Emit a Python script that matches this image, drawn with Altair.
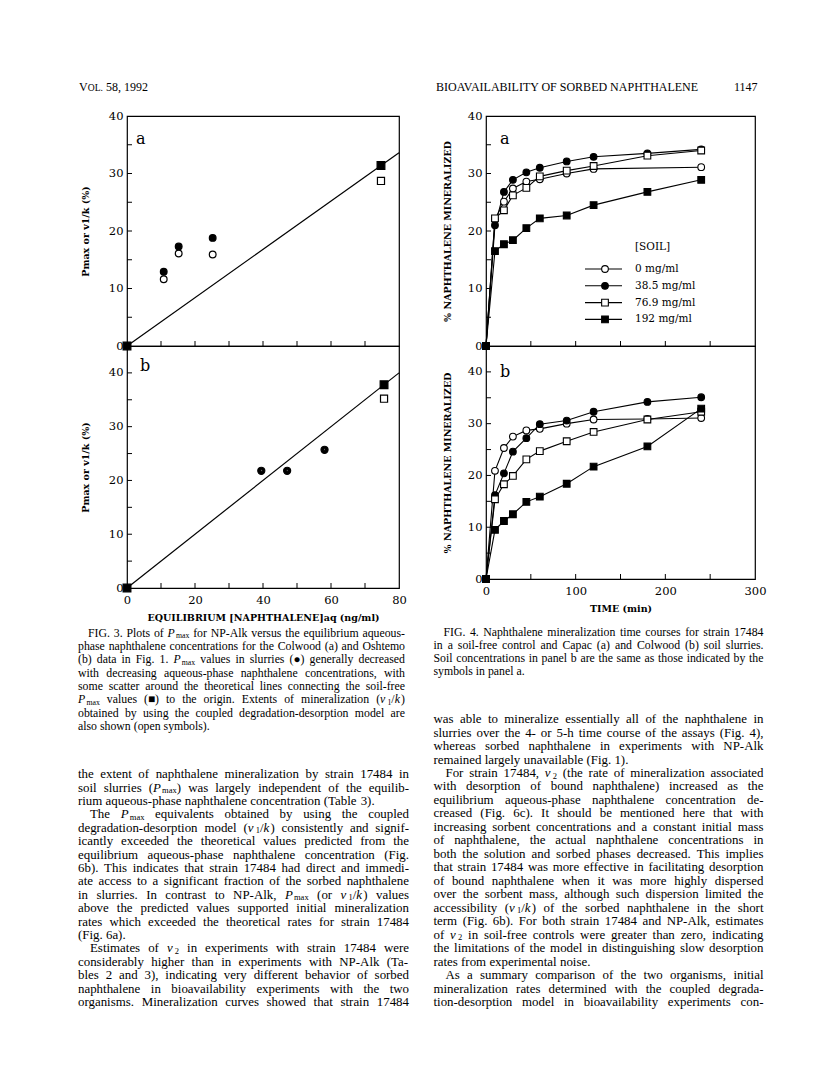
import altair as alt
import pandas as pd

# ---------------- Fig. 3 values (NP-Alk) ----------------
f3a_slurry_conc = [10.8, 15.2, 25.2]
f3a_slurry_pmax = [12.9, 17.3, 18.8]
f3a_slurry_v1k = [11.6, 16.1, 15.9]
f3a_free_conc = [0.0, 74.7]
f3a_free_pmax = [0.0, 31.4]
f3a_free_v1k_conc = [74.7]
f3a_free_v1k = [28.7]
f3a_theory_conc = [0, 80]
f3a_theory_pmax = [0, 33.6]

f3b_slurry_conc = [39.5, 47.1, 58.1]
f3b_slurry_pmax = [21.8, 21.8, 25.7]
f3b_free_conc = [0.0, 75.6]
f3b_free_pmax = [0.0, 37.8]
f3b_free_v1k_conc = [75.6]
f3b_free_v1k = [35.2]
f3b_theory_conc = [0, 80]
f3b_theory_pmax = [0, 40.0]

# ---------------- Fig. 4 values (strain 17484) ----------------
time_min = [0, 10, 20, 30, 45, 60, 90, 120, 180, 240]
soil_labels = ["0 mg/ml", "38.5 mg/ml", "76.9 mg/ml", "192 mg/ml"]
soil_shapes = ["circle", "circle", "square", "square"]
soil_fills = ["white", "black", "white", "black"]
f4a_soil0 = [0, 22.0, 25.1, 27.4, 28.6, 29.0, 30.0, 30.8, None, 31.1]
f4a_soil38 = [0, 21.0, 26.8, 28.9, 30.2, 31.0, 32.1, 32.9, 33.5, 34.2]
f4a_soil77 = [0, 22.2, 23.6, 26.2, 27.5, 29.5, 30.5, 31.3, 33.1, 34.0]
f4a_soil192 = [0, 16.5, 17.7, 18.4, 20.5, 22.2, 22.7, 24.5, 26.8, 28.9]
f4b_soil0 = [0, 20.9, 25.3, 27.5, 28.7, 29.0, 30.0, 30.8, 30.9, 31.1]
f4b_soil38 = [0, 16.2, 20.4, 24.6, 27.2, 29.9, 30.6, 32.3, 34.2, 35.1]
f4b_soil77 = [0, 15.4, 18.3, 19.9, 23.1, 24.7, 26.6, 28.4, 30.8, 32.3]
f4b_soil192 = [0, 9.5, 11.2, 12.5, 14.9, 15.9, 18.4, 21.7, 25.6, 32.9]

# ---------------- tick values ----------------
y_labels = [0, 10, 20, 30, 40]
y_minor = [5, 10, 15, 20, 25, 30, 35]
y_minor_b = [5, 10, 15, 20, 25, 30, 35, 40]
f3_x_labels = [0, 20, 40, 60, 80]
f3_x_minor = [10, 20, 30, 40, 50, 60, 70]
f4_x_labels = [0, 100, 200, 300]
f4_x_minor = [50, 100, 150, 200, 250]

BLACK = "#000000"
AXC = dict(domain=False, ticks=False, tickSize=0, grid=False, labelFlush=False,
           labelOverlap=False, labelFont="DejaVu Serif", labelFontSize=11.5,
           labelColor=BLACK, titleFont="DejaVu Serif", titleFontSize=9.5,
           titleFontWeight="bold", titleColor=BLACK)


def y_axis(title, h, tx):
    return alt.Axis(values=y_labels, title=title, titleX=tx, titleY=h / 2,
                    titleAngle=270, titleAlign="center", titleBaseline="middle",
                    labelPadding=4, **AXC)


def x_axis(values, title, ty):
    return alt.Axis(values=values, title=title, titleY=ty, titleBaseline="middle",
                    labelPadding=6, **AXC)


def sc(dom):
    return alt.Scale(domain=dom, nice=False, zero=False)


one = pd.DataFrame({"k": [0]})


def enc_x(xs, xax):
    return alt.X("c:Q", scale=xs, axis=xax)


def enc_y(ys, yax):
    return alt.Y("p:Q", scale=ys, axis=yax)


def tick_layers(xs, ys, xax, yax, xminor, yminor, h):
    tx = alt.Chart(pd.DataFrame({"c": xminor})).mark_rule(color=BLACK, strokeWidth=1).encode(
        x=enc_x(xs, xax), y=alt.value(h), y2=alt.value(h - 5))
    ty = alt.Chart(pd.DataFrame({"p": yminor})).mark_rule(color=BLACK, strokeWidth=1).encode(
        y=enc_y(ys, yax), x=alt.value(0), x2=alt.value(5))
    return [tx, ty]


def letter(txt, x, y):
    return alt.Chart(one).mark_text(text=txt, font="DejaVu Serif", fontSize=16, align="left",
                                    baseline="middle", color=BLACK).encode(
        x=alt.value(x), y=alt.value(y))


def pts(xv, yv, xs, ys, xax, yax, shape, fill, size):
    df = pd.DataFrame({"c": xv, "p": yv})
    return alt.Chart(df).mark_point(shape=shape, filled=True, fill=fill, stroke=BLACK,
                                    strokeWidth=1.2, size=size, opacity=1).encode(
        x=enc_x(xs, xax), y=enc_y(ys, yax))


# ---------------- Fig. 3 panels ----------------
W3 = 272
H3A, H3B = 230, 242
xs3 = sc([0, 80])
ys3a = sc([0, 40])
ys3b = sc([0, 45])

xa3a = None
ya3a = y_axis("Pmax or v1/k (%)", H3A, -42)
f3a_layers = [
    alt.Chart(pd.DataFrame({"c": f3a_theory_conc, "p": f3a_theory_pmax})).mark_line(
        color=BLACK, strokeWidth=1.2).encode(x=enc_x(xs3, xa3a), y=enc_y(ys3a, ya3a)),
    *tick_layers(xs3, ys3a, xa3a, ya3a, f3_x_minor, y_minor, H3A),
    pts(f3a_slurry_conc, f3a_slurry_v1k, xs3, ys3a, xa3a, ya3a, "circle", "white", 45),
    pts(f3a_slurry_conc, f3a_slurry_pmax, xs3, ys3a, xa3a, ya3a, "circle", "black", 45),
    pts(f3a_free_v1k_conc, f3a_free_v1k, xs3, ys3a, xa3a, ya3a, "square", "white", 50),
    pts(f3a_free_conc, f3a_free_pmax, xs3, ys3a, xa3a, ya3a, "square", "black", 60),
    letter("a", 9, 23),
]
f3a = alt.layer(*f3a_layers).properties(width=W3, height=H3A)

xa3b = x_axis(f3_x_labels, "EQUILIBRIUM [NAPHTHALENE]aq (ng/ml)", 29)
ya3b = y_axis("Pmax or v1/k (%)", H3B, -42)
f3b_layers = [
    alt.Chart(pd.DataFrame({"c": f3b_theory_conc, "p": f3b_theory_pmax})).mark_line(
        color=BLACK, strokeWidth=1.2).encode(x=enc_x(xs3, xa3b), y=enc_y(ys3b, ya3b)),
    *tick_layers(xs3, ys3b, xa3b, ya3b, f3_x_minor, y_minor_b, H3B),
    pts(f3b_slurry_conc, f3b_slurry_pmax, xs3, ys3b, xa3b, ya3b, "circle", "black", 50),
    pts(f3b_slurry_conc, f3b_slurry_pmax, xs3, ys3b, xa3b, ya3b, "circle", "white", 4),
    pts(f3b_free_v1k_conc, f3b_free_v1k, xs3, ys3b, xa3b, ya3b, "square", "white", 50),
    pts(f3b_free_conc, f3b_free_pmax, xs3, ys3b, xa3b, ya3b, "square", "black", 60),
    letter("b", 13, 20),
]
f3b = alt.layer(*f3b_layers).properties(width=W3, height=H3B)

# ---------------- Fig. 4 panels ----------------
W4 = 269
H4A, H4B = 230, 233
xs4 = sc([0, 300])
ys4a = sc([0, 40])
ys4b = sc([0, 45])


def fig4_df(series):
    rows = []
    for lab, vals in zip(soil_labels, series):
        for t, v in zip(time_min, vals):
            if v is not None:
                rows.append({"c": t, "p": v, "soil": lab})
    return pd.DataFrame(rows)


def fig4_layers(series, ys, h, xax, yminor):
    yax = y_axis("% NAPHTHALENE MINERALIZED", h, -39)
    df = fig4_df(series)
    line = alt.Chart(df).mark_line(color=BLACK, strokeWidth=1.1).encode(
        x=enc_x(xs4, xax), y=enc_y(ys, yax), detail="soil:N")
    points = alt.Chart(df).mark_point(filled=True, stroke=BLACK, strokeWidth=1.1, size=45,
                                      opacity=1).encode(
        x=enc_x(xs4, xax), y=enc_y(ys, yax),
        shape=alt.Shape("soil:N", scale=alt.Scale(domain=soil_labels, range=soil_shapes), legend=None),
        fill=alt.Fill("soil:N", scale=alt.Scale(domain=soil_labels, range=soil_fills), legend=None))
    return [line, *tick_layers(xs4, ys, xax, yax, f4_x_minor, yminor, h), points]


legend_layers = [
    alt.Chart(one).mark_text(text="[SOIL]", font="DejaVu Serif", fontSize=10.5, align="left",
                             baseline="middle", color=BLACK).encode(x=alt.value(149), y=alt.value(131))
]
for i, (lab, shp, fil) in enumerate(zip(soil_labels, soil_shapes, soil_fills)):
    yy = 153 + 16.8 * i
    legend_layers.append(alt.Chart(one).mark_rule(color=BLACK, strokeWidth=1.1).encode(
        x=alt.value(99), x2=alt.value(136), y=alt.value(yy)))
    legend_layers.append(alt.Chart(one).mark_point(shape=shp, filled=True, fill=fil, stroke=BLACK,
                                                   strokeWidth=1.1, size=45, opacity=1).encode(
        x=alt.value(119), y=alt.value(yy)))
    legend_layers.append(alt.Chart(one).mark_text(text=lab, font="DejaVu Serif", fontSize=10.5,
                                                  align="left", baseline="middle", color=BLACK).encode(
        x=alt.value(149), y=alt.value(yy)))

f4a = alt.layer(*fig4_layers([f4a_soil0, f4a_soil38, f4a_soil77, f4a_soil192], ys4a, H4A, None, y_minor),
                letter("a", 14, 23), *legend_layers).properties(width=W4, height=H4A)
f4b = alt.layer(*fig4_layers([f4b_soil0, f4b_soil38, f4b_soil77, f4b_soil192], ys4b, H4B,
                             x_axis(f4_x_labels, "TIME (min)", 29), y_minor_b),
                letter("b", 14, 26)).properties(width=W4, height=H4B)

# ---------------- page text ----------------
TIMES = dict(zip(" !\"#$%&'()*+,-./", [250, 333, 408, 500, 500, 833, 778, 333, 333, 333, 500, 564, 250, 333, 250, 278]))
TIMES.update({d: 500 for d in "0123456789"})
TIMES.update(zip(":;<=>?@", [278, 278, 564, 564, 564, 444, 921]))
TIMES.update(zip("ABCDEFGHIJKLMNOPQRSTUVWXYZ",
                 [722, 667, 667, 722, 611, 556, 722, 722, 333, 389, 722, 611, 889, 722, 722, 556, 722,
                  667, 556, 611, 722, 722, 944, 722, 722, 611]))
TIMES.update(zip("[\\]", [333, 278, 333]))
TIMES.update(zip("abcdefghijklmnopqrstuvwxyz",
                 [444, 500, 444, 500, 444, 333, 500, 500, 278, 278, 500, 278, 778, 500, 500, 500, 500,
                  333, 389, 278, 500, 500, 722, 500, 500, 444]))
TIMES.update({"●": 600, "■": 600, "ν": 500})
ITAL = {"P": 611, "k": 444, "ν": 520}
SUB = 0.66

OX, OY = 125, 113


def seg_w(t, m, fs):
    size = fs * SUB if m == "s" else fs
    tab = dict(TIMES)
    if m == "i":
        tab.update(ITAL)
    w = sum(tab.get(c, 500) for c in t) * size / 1000.0
    if m == "i":
        w += 1.2
    return w


def parse(line):
    runs, mode, buf = [], "n", ""
    for ch in line:
        if ch in "*_":
            if buf:
                runs.append((buf, mode))
                buf = ""
            tgt = "i" if ch == "*" else "s"
            mode = tgt if mode != tgt else "n"
        else:
            buf += ch
    if buf:
        runs.append((buf, mode))
    words = [[]]
    for text, m in runs:
        parts = text.split(" ")
        for j, p in enumerate(parts):
            if j > 0:
                words.append([])
            if p:
                words[-1].append((p, m))
    return [w for w in words if w]


def layout(lines, x0, y0, lh, colw, fs, indent):
    rows = []
    for i, (txt, ind, just) in enumerate(lines):
        words = parse(txt)
        widths = [sum(seg_w(t, m, fs) for t, m in w) for w in words]
        xs = x0 + (indent if ind else 0)
        avail = colw - (indent if ind else 0)
        nat = sum(widths)
        if just and len(words) > 1:
            gap = max((avail - nat) / (len(words) - 1), 0.2 * fs)
        else:
            gap = 0.25 * fs
        base = y0 + i * lh + 0.32 * fs
        x = xs
        for w, ww in zip(words, widths):
            xx = x
            for t, m in w:
                size = fs * SUB if m == "s" else fs
                rows.append(dict(px=xx - OX, py=base + (0.12 * fs if m == "s" else 0) - OY,
                                 t=t, fs=size, it=(m == "i")))
                xx += seg_w(t, m, fs)
            x += ww + gap
    return rows


T, F = True, False
caption3 = [
    ("FIG. 3.  Plots of *P*_max_ for NP-Alk versus the equilibrium aqueous-", T, T),
    ("phase naphthalene concentrations for the Colwood (a) and Oshtemo", F, T),
    ("(b) data in Fig. 1. *P*_max_ values in slurries (●) generally decreased", F, T),
    ("with decreasing aqueous-phase naphthalene concentrations, with", F, T),
    ("some scatter around the theoretical lines connecting the soil-free", F, T),
    ("*P*_max_ values (■) to the origin. Extents of mineralization (*ν*_1_/*k*)", F, T),
    ("obtained by using the coupled degradation-desorption model are", F, T),
    ("also shown (open symbols).", F, F),
]
caption4 = [
    ("FIG. 4.  Naphthalene mineralization time courses for strain 17484", T, T),
    ("in a soil-free control and Capac (a) and Colwood (b) soil slurries.", F, T),
    ("Soil concentrations in panel b are the same as those indicated by the", F, T),
    ("symbols in panel a.", F, F),
]
body_left = [
    ("the extent of naphthalene mineralization by strain 17484 in", F, T),
    ("soil slurries (*P*_max_) was largely independent of the equilib-", F, T),
    ("rium aqueous-phase naphthalene concentration (Table 3).", F, F),
    ("The *P*_max_ equivalents obtained by using the coupled", T, T),
    ("degradation-desorption model (*ν*_1_/*k*) consistently and signif-", F, T),
    ("icantly exceeded the theoretical values predicted from the", F, T),
    ("equilibrium aqueous-phase naphthalene concentration (Fig.", F, T),
    ("6b). This indicates that strain 17484 had direct and immedi-", F, T),
    ("ate access to a significant fraction of the sorbed naphthalene", F, T),
    ("in slurries. In contrast to NP-Alk, *P*_max_ (or *ν*_1_/*k*) values", F, T),
    ("above the predicted values supported initial mineralization", F, T),
    ("rates which exceeded the theoretical rates for strain 17484", F, T),
    ("(Fig. 6a).", F, F),
    ("Estimates of *ν*_2_ in experiments with strain 17484 were", T, T),
    ("considerably higher than in experiments with NP-Alk (Ta-", F, T),
    ("bles 2 and 3), indicating very different behavior of sorbed", F, T),
    ("naphthalene in bioavailability experiments with the two", F, T),
    ("organisms. Mineralization curves showed that strain 17484", F, T),
]
body_right = [
    ("was able to mineralize essentially all of the naphthalene in", F, T),
    ("slurries over the 4- or 5-h time course of the assays (Fig. 4),", F, T),
    ("whereas sorbed naphthalene in experiments with NP-Alk", F, T),
    ("remained largely unavailable (Fig. 1).", F, F),
    ("For strain 17484, *ν*_2_ (the rate of mineralization associated", T, T),
    ("with desorption of bound naphthalene) increased as the", F, T),
    ("equilibrium aqueous-phase naphthalene concentration de-", F, T),
    ("creased (Fig. 6c). It should be mentioned here that with", F, T),
    ("increasing sorbent concentrations and a constant initial mass", F, T),
    ("of naphthalene, the actual naphthalene concentrations in", F, T),
    ("both the solution and sorbed phases decreased. This implies", F, T),
    ("that strain 17484 was more effective in facilitating desorption", F, T),
    ("of bound naphthalene when it was more highly dispersed", F, T),
    ("over the sorbent mass, although such dispersion limited the", F, T),
    ("accessibility (*ν*_1_/*k*) of the sorbed naphthalene in the short", F, T),
    ("term (Fig. 6b). For both strain 17484 and NP-Alk, estimates", F, T),
    ("of *ν*_2_ in soil-free controls were greater than zero, indicating", F, T),
    ("the limitations of the model in distinguishing slow desorption", F, T),
    ("rates from experimental noise.", F, F),
    ("As a summary comparison of the two organisms, initial", T, T),
    ("mineralization rates determined with the coupled degrada-", F, T),
    ("tion-desorption model in bioavailability experiments con-", F, T),
]

rows = []
hb = 89
rows.append(dict(px=77 - OX, py=hb - OY, t="V", fs=12, it=False))
rows.append(dict(px=77 + 8.7 - OX, py=hb - OY, t="OL.", fs=9.6, it=False))
rows.append(dict(px=104 - OX, py=hb - OY, t="58, 1992", fs=12, it=False))
rows.append(dict(px=434 - OX, py=hb - OY, t="BIOAVAILABILITY OF SORBED NAPHTHALENE", fs=12, it=False))
rows.append(dict(px=732 - OX, py=hb - OY, t="1147", fs=12, it=False))
rows += layout(caption3, 76, 631, 13.3, 327, 11.8, 10)
rows += layout(caption4, 431.5, 630, 13.1, 330, 11.8, 10)
rows += layout(body_left, 76, 772, 13.4, 331, 12.9, 12)
rows += layout(body_right, 431.5, 717, 13.47, 330, 12.9, 12)
pdf = pd.DataFrame(rows)


def text_layer(df, style):
    return alt.Chart(df).mark_text(align="left", baseline="alphabetic", font="Liberation Serif",
                                   fontStyle=style, color=BLACK).encode(
        x=alt.X("px:Q", scale=None), y=alt.Y("py:Q", scale=None), text="t:N",
        size=alt.Size("fs:Q", scale=None, legend=None))


anchor = alt.Chart(one).mark_square(size=1, color="white", opacity=1).encode(
    x=alt.value(8 - OX), y=alt.value(8 - OY))
page = alt.layer(anchor, text_layer(pdf[~pdf["it"]], "normal"),
                 text_layer(pdf[pdf["it"]], "italic")).properties(
    width=1, height=1, view=alt.ViewBackground(stroke="transparent"))

grid = alt.concat(f3a, f4a, f3b, f4b, columns=2, spacing={"row": 0, "column": 87},
                  bounds="flush", align="each")
chart = alt.vconcat(page, grid, spacing=0, bounds="flush").properties(
    padding=0, background="white").configure_view(stroke=BLACK, strokeWidth=1.2)

chart.save("out.html", embed_options={"renderer": "svg", "actions": False})
